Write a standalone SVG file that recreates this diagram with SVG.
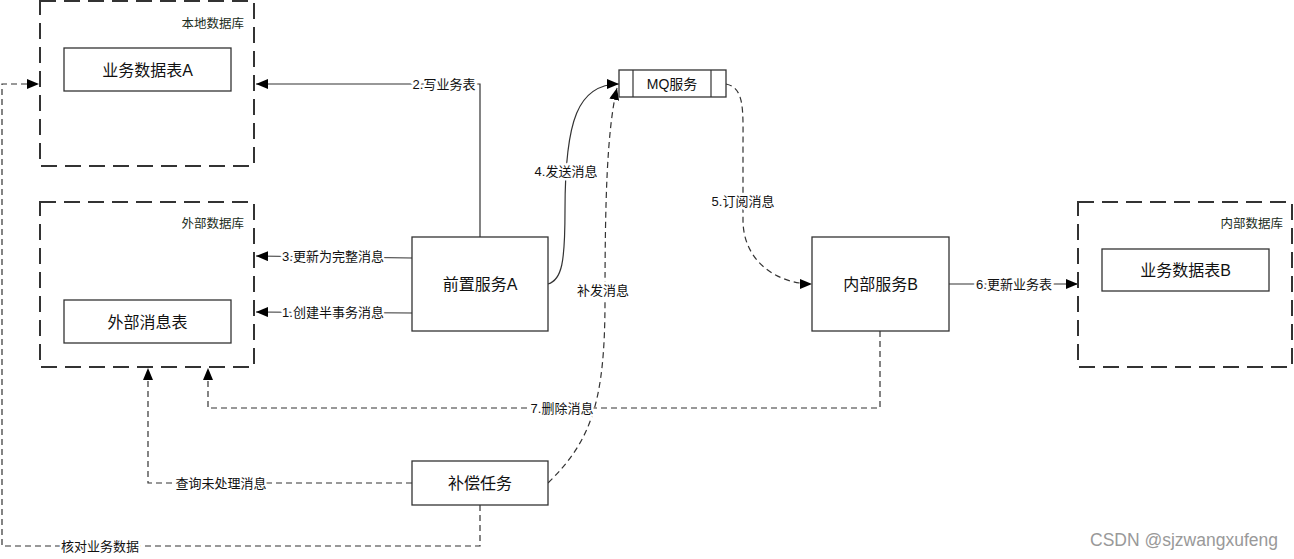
<svg xmlns="http://www.w3.org/2000/svg" width="1294" height="559" viewBox="0 0 1294 559">
<style>
.db{fill:none;stroke:#333;stroke-width:2;stroke-dasharray:16 8}
.box{fill:#fff;stroke:#333;stroke-width:1.3}
.t{font-family:"Liberation Sans","Noto Sans CJK SC",sans-serif;font-size:16px;fill:#111;text-anchor:middle;dominant-baseline:central}
.dbl{font-family:"Liberation Sans","Noto Sans CJK SC",sans-serif;font-size:12.5px;fill:#1c2e22;text-anchor:end;dominant-baseline:central}
.l{font-family:"Liberation Sans","Noto Sans CJK SC",sans-serif;font-size:13px;fill:#111;text-anchor:middle;dominant-baseline:central;paint-order:stroke;stroke:#fff;stroke-width:5px;stroke-linejoin:round}
.c{fill:none;stroke:#333;stroke-width:1.2}
.d{fill:none;stroke:#333;stroke-width:1.2;stroke-dasharray:6 4}
.wm{font-family:"Liberation Sans Narrow","Liberation Sans",sans-serif;font-size:17.5px;fill:#999}
</style>
<defs>
<marker id="ah" viewBox="0 0 12 10" refX="12" refY="5" markerWidth="12" markerHeight="10" markerUnits="userSpaceOnUse" orient="auto">
<path d="M0,0 L12,5 L0,10 Z" fill="#000"/>
</marker>
</defs>
<rect width="1294" height="559" fill="#fff"/>

<g id="connectors">
<path class="c" d="M480,237 L480,84 L256,84" marker-end="url(#ah)"/>
<path class="c" d="M412,258 L256,256" marker-end="url(#ah)"/>
<path class="c" d="M412,313 L256,312" marker-end="url(#ah)"/>
<path class="c" d="M548,284 C562,280 565,262 565,210 C565,120 578,84 619,84" marker-end="url(#ah)"/>
<path class="d" d="M548,483 C592,440 605,400 605,300 C605,200 607,130 617,88" marker-end="url(#ah)"/>
<path class="d" d="M726,84 C745,88 743,110 743,150 L743,220 C743,262 778,284 812,284" marker-end="url(#ah)"/>
<path class="c" d="M949,284 L1078,284" marker-end="url(#ah)"/>
<path class="d" d="M880,331 L880,408 L208,408 L208,368" marker-end="url(#ah)"/>
<path class="d" d="M412,483 L148,483 L148,368" marker-end="url(#ah)"/>
<path class="d" d="M480,505 L480,546 L2,546 L2,84 L39,84" marker-end="url(#ah)"/>

<text class="l" x="444" y="84">2.写业务表</text>
<text class="l" x="333" y="256">3.更新为完整消息</text>
<text class="l" x="333" y="312">1.创建半事务消息</text>
<text class="l" x="566" y="171">4.发送消息</text>
<text class="l" x="603" y="290">补发消息</text>
<text class="l" x="743" y="201">5.订阅消息</text>
<text class="l" x="1014" y="284">6.更新业务表</text>
<text class="l" x="562" y="408">7.删除消息</text>
<text class="l" x="221" y="483">查询未处理消息</text>
<text class="l" x="100" y="546">核对业务数据</text>
</g>

<g id="local-db">
<rect class="db" x="40" y="1" width="214" height="165"/>
<text class="dbl" x="244" y="24">本地数据库</text>
</g>
<g id="table-a">
<rect class="box" x="64" y="48" width="167" height="43"/>
<text class="t" x="147.5" y="70">业务数据表A</text>
</g>

<g id="external-db">
<rect class="db" x="40" y="202" width="214" height="165"/>
<text class="dbl" x="244" y="224">外部数据库</text>
</g>
<g id="ext-msg-table">
<rect class="box" x="64" y="300" width="167" height="43"/>
<text class="t" x="147.5" y="322">外部消息表</text>
</g>

<g id="front-service-a">
<rect class="box" x="412" y="237" width="136" height="94"/>
<text class="t" x="480" y="284">前置服务A</text>
</g>

<g id="mq">
<rect class="box" x="619" y="70" width="107" height="27"/>
<line x1="633" y1="70" x2="633" y2="97" stroke="#333" stroke-width="1.2"/>
<line x1="711" y1="70" x2="711" y2="97" stroke="#333" stroke-width="1.2"/>
<text class="t" x="672" y="83.5" style="font-size:14px">MQ服务</text>
</g>

<g id="internal-service-b">
<rect class="box" x="812" y="237" width="137" height="94"/>
<text class="t" x="880.5" y="284">内部服务B</text>
</g>

<g id="internal-db">
<rect class="db" x="1078" y="202" width="214" height="165"/>
<text class="dbl" x="1283" y="224">内部数据库</text>
</g>
<g id="table-b">
<rect class="box" x="1102" y="249" width="167" height="42"/>
<text class="t" x="1185.5" y="270">业务数据表B</text>
</g>

<g id="compensation-task">
<rect class="box" x="412" y="461" width="136" height="44"/>
<text class="t" x="480" y="483">补偿任务</text>
</g>

<text class="wm" x="1090" y="546">CSDN @sjzwangxufeng</text>
</svg>
